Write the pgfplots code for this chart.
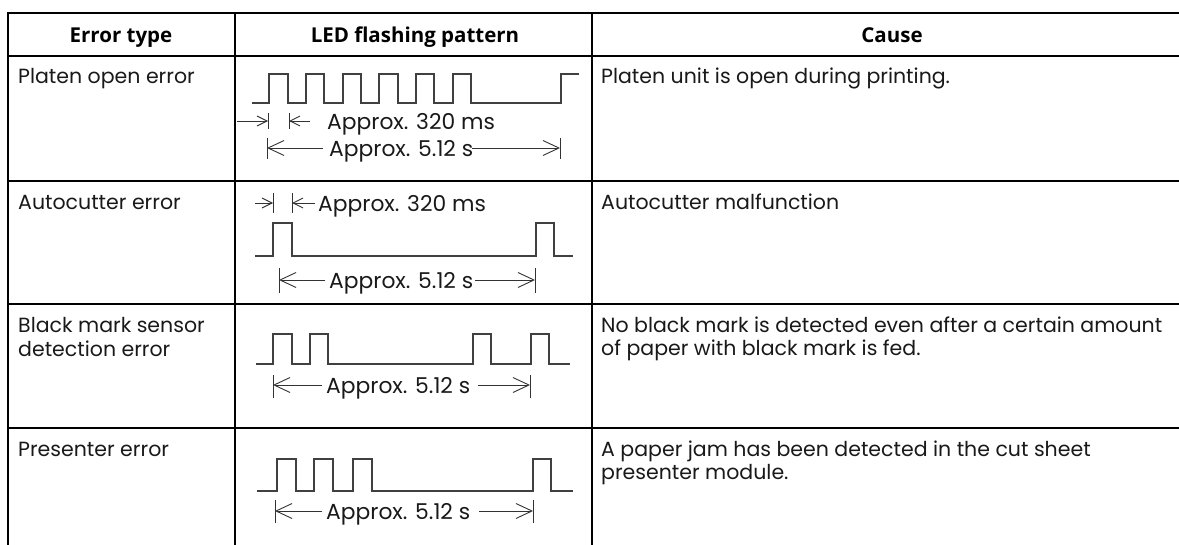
\documentclass[border=0pt]{standalone}
\usepackage{fontspec}
\usepackage{pgfplots}
\pgfplotsset{compat=1.18}
\usetikzlibrary{arrows.meta}
\setmainfont{Poppins}
\newfontfamily\hdr{Open Sans}
\begin{document}
\begin{tikzpicture}
\begin{axis}[name=ax, width=1179bp, height=545bp, scale only axis,
  xmin=0, xmax=1179, ymin=0, ymax=545, y dir=reverse, hide axis, clip=false]
% waveforms
\addplot[no marks, line width=1.1bp, color=black!75] coordinates {
(252,103)(269,103)(269,74)(288,74)(288,103)(306,103)(306,74)(324,74)(324,103)
(343,103)(343,74)(361,74)(361,103)(379,103)(379,74)(398,74)(398,103)(416,103)
(416,74)(434,74)(434,103)(453,103)(453,74)(471,74)(471,103)(561,103)(561,74)(579,74)};
\addplot[no marks, line width=1.1bp, color=black!75] coordinates {
(255,256)(273,256)(273,223)(292,223)(292,256)(536,256)(536,223)(554,223)(554,256)(573,256)};
\addplot[no marks, line width=1.1bp, color=black!75] coordinates {
(256,364)(273,364)(273,334)(292,334)(292,364)(310,364)(310,334)(328,334)(328,364)
(473,364)(473,334)(491,334)(491,364)(531,364)(531,334)(549,334)(549,364)(570,364)};
\addplot[no marks, line width=1.1bp, color=black!75] coordinates {
(257,491)(277,491)(277,459)(296,459)(296,491)(314,491)(314,459)(333,459)(333,491)
(353,491)(353,459)(372,459)(372,491)(533,491)(533,459)(551,459)(551,491)(573,491)};
% table grid
\draw[line width=2.3bp] (8,13) -- (1200,13);
\draw[line width=2.6bp] (8,56) -- (1200,56);
\draw[line width=2.3bp] (8,181) -- (1200,181);
\draw[line width=2.3bp] (8,304) -- (1200,304);
\draw[line width=2.3bp] (8,428) -- (1200,428);
\draw[line width=2.3bp] (8,12) -- (8,560);
\draw[line width=2.3bp] (235,12) -- (235,560);
\draw[line width=2.3bp] (592,12) -- (592,560);
% headers
\tikzset{hd/.style={anchor=base, inner sep=0, font=\hdr\bfseries\fontsize{20.5bp}{24bp}\selectfont}}
\node[hd] at (121,43) {Error type};
\node[hd] at (415,43) {LED flashing pattern};
\node[hd] at (892,43) {Cause};
% body text
\tikzset{bt/.style={anchor=base west, inner sep=0, text=black!90, font=\fontsize{20.5bp}{24bp}\selectfont}}
\node[bt] at (18,84) {Platen open error};
\node[bt] at (18,209) {Autocutter error};
\node[bt] at (18,332) {Black mark sensor};
\node[bt] at (18,356) {detection error};
\node[bt] at (18,456) {Presenter error};
\node[bt] at (601,84) {Platen unit is open during printing.};
\node[bt] at (601,209) {Autocutter malfunction};
\node[bt] at (601,332) {No black mark is detected even after a certain amount};
\node[bt] at (601,355) {of paper with black mark is fed.};
\node[bt] at (601,456) {A paper jam has been detected in the cut sheet};
\node[bt] at (601,479) {presenter module.};
% annotations
\tikzset{annot/.style={anchor=base west, inner sep=0, text=black!90, font=\fontsize{21.8bp}{26bp}\selectfont},
  ar/.style={line width=0.9bp, color=black!80, -{Straight Barb[length=10bp,width=10bp,line width=0.9bp]}},
  arL/.style={line width=0.9bp, color=black!80, -{Straight Barb[length=16bp,width=15bp,line width=0.9bp]}},
  tk/.style={line width=0.9bp, color=black!80}}
% row 1
\draw[ar] (237,121) -- (268,121);
\draw[ar] (310,121) -- (289,121);
\draw[tk] (268,113) -- (268,129);
\draw[tk] (289,113) -- (289,129);
\node[annot] at (327,129) {Approx. 320 ms};
\draw[tk] (267,138) -- (267,159);
\draw[tk] (560,138) -- (560,159);
\draw[arL] (323,148) -- (267,148);
\draw[arL] (472,148) -- (560,148);
\node[annot] at (329,156) {Approx. 5.12 s};
% row 2
\draw[ar] (255,203) -- (273,203);
\draw[ar] (315,203) -- (292,203);
\draw[tk] (273,193) -- (273,213);
\draw[tk] (292,193) -- (292,213);
\node[annot] at (318,211) {Approx. 320 ms};
\draw[tk] (279,268) -- (279,293);
\draw[tk] (535,268) -- (535,293);
\draw[arL] (325,280) -- (279,280);
\draw[arL] (475,280) -- (535,280);
\node[annot] at (329,288) {Approx. 5.12 s};
% row 3
\draw[tk] (273,375) -- (273,398);
\draw[tk] (530,375) -- (530,398);
\draw[arL] (322,385) -- (273,385);
\draw[arL] (478,385) -- (530,385);
\node[annot] at (326,393) {Approx. 5.12 s};
% row 4
\draw[tk] (275,500) -- (275,523);
\draw[tk] (533,500) -- (533,523);
\draw[arL] (322,511) -- (275,511);
\draw[arL] (479,511) -- (533,511);
\node[annot] at (326,519) {Approx. 5.12 s};
\end{axis}
\pgfresetboundingbox
\path (ax.south west) rectangle (ax.north east);
\end{tikzpicture}
\end{document}
